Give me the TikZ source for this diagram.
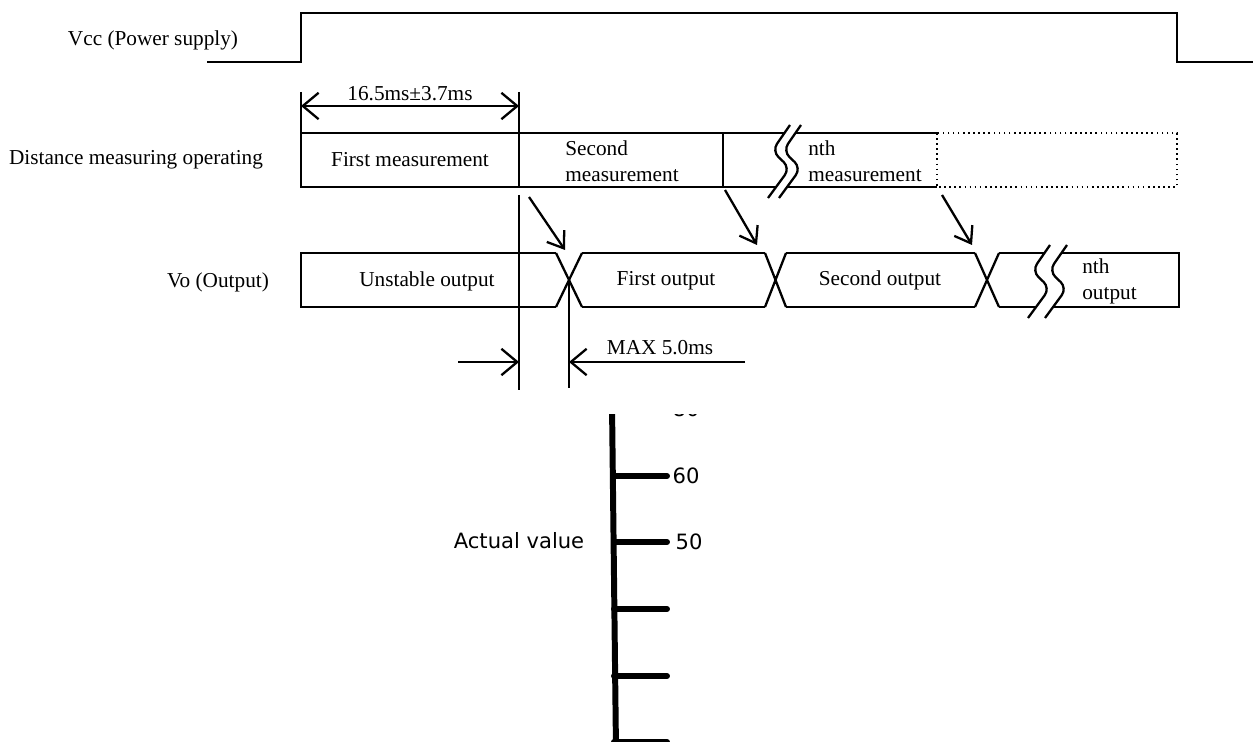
\documentclass[tikz,border=0pt]{standalone}
\usepackage{fontspec}
\setmainfont{Liberation Serif}
\newfontfamily\rulerfont{DejaVu Sans}
\usetikzlibrary{arrows.meta,calc}
\tikzset{
  sig/.style={line width=1.3pt},
  dimline/.style={line width=1.3pt,-{Straight Barb[length=9pt,width=15pt,line width=1.3pt]}},
  dimboth/.style={line width=1.3pt,{Straight Barb[length=9pt,width=15pt,line width=1.3pt]}-{Straight Barb[length=9pt,width=15pt,line width=1.3pt]}},
  trigarrow/.style={line width=1.3pt,-{Straight Barb[length=8.5pt,width=12pt,line width=1.3pt]}},
  lbl/.style={font=\fontsize{12.1}{14.7}\selectfont,inner sep=0pt},
  twoline/.style={lbl,align=left,anchor=west},
  rulerline/.style={line width=3.4pt,line cap=round},
  rulerlbl/.style={font=\rulerfont\fontsize{12}{14}\selectfont,inner sep=0pt},
  pics/brk/.style={code={
    \fill[white,rounded corners=5pt] (10,-36) -- (-8,-10) -- (10,7) -- (-12,37)
      -- (-12+#1,37) -- (10+#1,7) -- (-8+#1,-10) -- (10+#1,-36) -- cycle;
    \draw[sig,rounded corners=5pt] (10,-36) -- (-8,-10) -- (10,7) -- (-12,37);
    \draw[sig,rounded corners=5pt] (10+#1,-36) -- (-8+#1,-10) -- (10+#1,7) -- (-12+#1,37);
  }},
}

\begin{document}
\begin{tikzpicture}[x=0.02cm,y=-0.02cm]
\useasboundingbox (0,0) rectangle (1253,742);

\node[lbl] (vcc) at (153,40) {Vcc (Power supply)};
\draw[sig] (207,62) -- (301,62) -- (301,13) -- (1177,13) -- (1177,62) -- (1253,62);

\coordinate (m0) at (301,133);
\coordinate (m1) at (519,133);
\coordinate (m2) at (723,133);
\coordinate (m3) at (937,133);
\coordinate (m4) at (1177,133);

\draw[sig] (301,92) -- (m0);
\draw[sig] (519,92) -- (m1);
\draw[dimboth] (301,106) -- (519,106);
\node[lbl] (tfirst) at (410,94) {16.5ms±3.7ms};

\node[lbl] (dmo) at (136,160) {Distance measuring operating};
\draw[sig] (m3) -- (m0) -- ++(0,54) -- ($(m3)+(0,54)$);
\draw[sig] (m1) -- ++(0,54);
\draw[sig] (m2) -- ++(0,54);
\draw[dotted,line width=0.9pt] (m3) rectangle ($(m4)+(0,54)$);
\node[lbl] (meas1) at (410,160) {First measurement};
\node[twoline] (meas2) at (565,161) {Second\\measurement};
\pic at (780,161) {brk=11};
\node[twoline] (measn) at (808,161) {nth\\measurement};

\node[lbl] (vo) at (218,282) {Vo (Output)};
\draw[sig] (556,253) -- (301,253) -- (301,307) -- (556,307);
\draw[sig] (556,253) -- (582,307) (556,307) -- (582,253);
\draw[sig] (582,253) -- (765,253) (582,307) -- (765,307);
\draw[sig] (765,253) -- (786,307) (765,307) -- (786,253);
\draw[sig] (786,253) -- (975,253) (786,307) -- (975,307);
\draw[sig] (975,253) -- (999,307) (975,307) -- (999,253);
\draw[sig] (999,253) -- (1179,253) -- (1179,307) -- (999,307);
\node[lbl] (out0) at (427,281) {Unstable output};
\node[lbl] (out1) at (666,281) {First output};
\node[lbl] (out2) at (880,280) {Second output};
\pic at (1040,281) {brk=17};
\node[twoline] (outn) at (1082,281) {nth\\output};

\coordinate (x1) at (569,280);
\draw[trigarrow] ($(m1)+(10,64)$) -- (565,250);
\draw[trigarrow] ($(m2)+(2,57)$) -- (757,245);
\draw[trigarrow] ($(m3)+(5,62)$) -- (972,245);

\draw[sig] (519,195) -- (519,390);
\draw[sig] (x1) -- (569,388);
\draw[dimline] (458,362) -- (519,362);
\draw[dimline] (745,362) -- (569,362);
\node[lbl] (tmax) at (660,348) {MAX 5.0ms};

\begin{scope}
\clip (0,415) rectangle (1253,742);
\draw[rulerline] (612,405) -- (616,750);
\foreach \y in {476,542,609,676,742}
  \draw[rulerline] (614,\y) -- (667,\y);
\node[rulerlbl] (r80) at (686,409) {80};
\end{scope}
\node[rulerlbl] (r60) at (686,476) {60};
\node[rulerlbl] (r50) at (689,542) {50};
\node[rulerlbl] (actual) at (519,541) {Actual value};
\end{tikzpicture}
\end{document}
